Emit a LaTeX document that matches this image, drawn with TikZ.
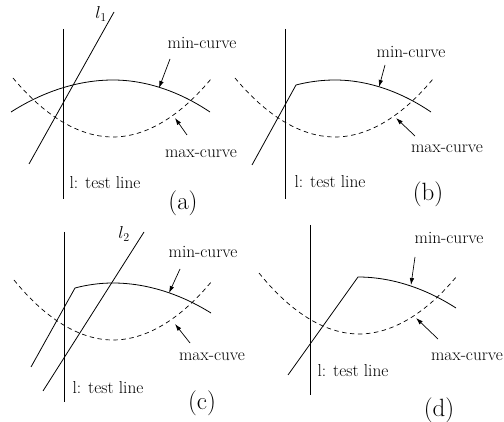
\documentclass[tikz,border=0pt]{standalone}
\usetikzlibrary{arrows.meta}
\begin{document}
\begin{tikzpicture}[x=1pt,y=-1pt,
  ln/.style={line width=0.8pt},
  dsh/.style={line width=0.7pt,dash pattern=on 4.5pt off 3.5pt},
  ptr/.style={line width=0.7pt,-{Latex[length=7pt,width=4.5pt]}},
  lbl/.style={inner sep=0pt,font=\fontsize{17.3}{20}\selectfont},
  panellbl/.style={inner sep=0pt,font=\fontsize{25}{30}\selectfont}]
\useasboundingbox (0,0) rectangle (504,422);
% ---------- (a)
\coordinate (a1) at (63,29); \coordinate (a2) at (63,199);
\draw[ln] (a1) -- (a2);
\coordinate (l1s) at (29,164); \coordinate (l1e) at (114,12);
\draw[ln] (l1s) -- (l1e);
\node[lbl] (l1lab) at (101,14) {$l_1$};
\draw[ln] (11,112) parabola bend (113,80) (210,112);
\draw[dsh] (13,78) parabola bend (113,137) (211,79);
\node[lbl] (aminl) at (202,43) {min-curve};
\node[lbl] (amaxl) at (201,154) {max-curve};
\node[lbl] (atest) at (105,183) {l: test line};
\node[panellbl] (acap) at (183,203) {(a)};
\coordinate (aminS) at (170,59); \coordinate (aminE) at (159,88);
\coordinate (amaxS) at (187,135); \coordinate (amaxE) at (175,118);
\draw[ptr] (aminS) -- (aminE);
\draw[ptr] (amaxS) -- (amaxE);
% ---------- (b)
\coordinate (b1) at (285,29); \coordinate (b2) at (285,199);
\draw[ln] (b1) -- (b2);
\coordinate (bs) at (252,165); \coordinate (bk) at (296,85);
\draw[ln] (bs) -- (bk) parabola bend (335,80) (431,112);
\draw[dsh] (235,78) parabola bend (335,137) (433,79);
\node[lbl] (bminl) at (411,52) {min-curve};
\node[lbl] (bmaxl) at (447,149) {max-curve};
\node[lbl] (btest) at (330,182) {l: test line};
\node[panellbl] (bcap) at (428,194) {(b)};
\coordinate (bminS) at (385,65); \coordinate (bminE) at (379,87);
\coordinate (bmaxS) at (415,136); \coordinate (bmaxE) at (396,118);
\draw[ptr] (bminS) -- (bminE);
\draw[ptr] (bmaxS) -- (bmaxE);
% ---------- (c)
\coordinate (c1) at (64,232); \coordinate (c2) at (64,402);
\draw[ln] (c1) -- (c2);
\coordinate (l2s) at (43,391); \coordinate (l2e) at (144,232);
\draw[ln] (l2s) -- (l2e);
\node[lbl] (l2lab) at (124,234) {$l_2$};
\coordinate (cs) at (31,367); \coordinate (ck) at (75,288);
\draw[ln] (cs) -- (ck) parabola bend (113,283) (211,313);
\draw[dsh] (14,280) parabola bend (113,340) (212,281);
\node[lbl] (cminl) at (203,252) {min-curve};
\node[lbl] (cmaxl) at (212,357) {max-cuve};
\node[lbl] (ctest) at (108,388) {l: test line};
\node[panellbl] (ccap) at (202,403) {(c)};
\coordinate (cminS) at (180,269); \coordinate (cminE) at (169,293);
\coordinate (cmaxS) at (190,343); \coordinate (cmaxE) at (175,324);
\draw[ptr] (cminS) -- (cminE);
\draw[ptr] (cmaxS) -- (cmaxE);
% ---------- (d)
\coordinate (d1) at (310,225); \coordinate (d2) at (310,395);
\draw[ln] (d1) -- (d2);
\coordinate (ds) at (288,375); \coordinate (dk) at (358,277);
\draw[ln] (ds) -- (dk) parabola (456,308);
\draw[dsh] (259,273) parabola bend (359,334) (457,276);
\node[lbl] (dminl) at (449,238) {min-curve};
\node[lbl] (dmaxl) at (467,357) {max-curve};
\node[lbl] (dtest) at (353,371) {l: test line};
\node[panellbl] (dcap) at (439,410) {(d)};
\coordinate (dminS) at (415,257); \coordinate (dminE) at (411,285);
\coordinate (dmaxS) at (438,339); \coordinate (dmaxE) at (416,318);
\draw[ptr] (dminS) -- (dminE);
\draw[ptr] (dmaxS) -- (dmaxE);
\end{tikzpicture}
\end{document}
